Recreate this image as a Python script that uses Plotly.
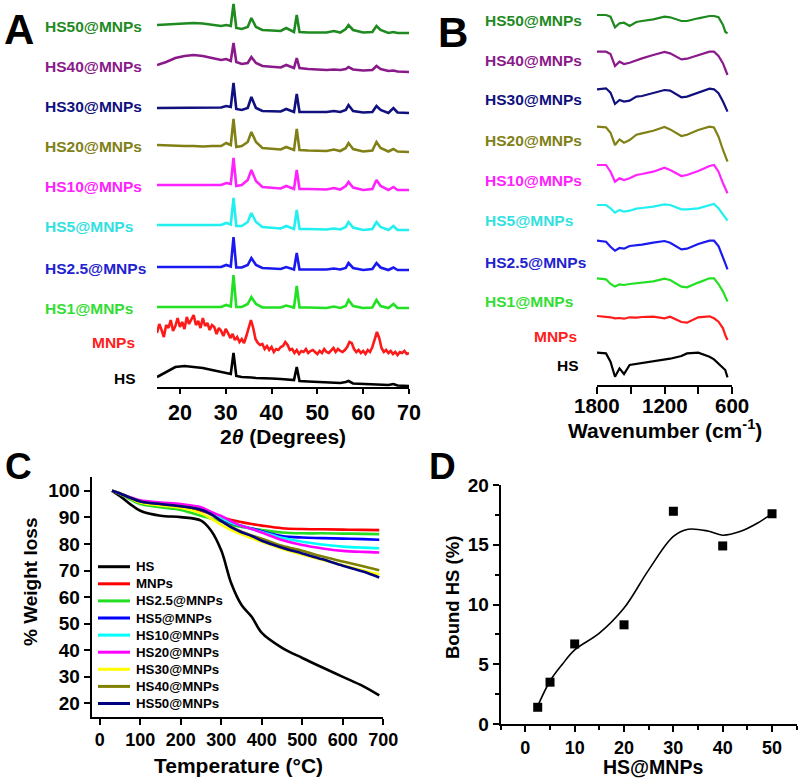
import plotly.graph_objects as go

W, H = 800, 782
FONT = "Arial, 'Liberation Sans', Helvetica, sans-serif"

# ---------------- Panel A : XRD ----------------
TWO_THETA = [15, 17, 19, 21, 23, 25, 27, 29, 30.1, 31.1, 31.7, 32.3, 33.5, 34.8, 35.6, 36.6,
             38, 40, 42, 43.2, 44.9, 45.5, 46.1, 48, 50, 52, 53.6, 55, 56.2, 56.8, 57.8, 60,
             62, 62.9, 63.8, 65.5, 66.6, 67.5, 70]
XRD_HS = [9, 14, 19, 20, 19, 18, 16, 14, 13, 12, 33, 10, 9, 9, 8.5, 8, 8, 7.5, 7, 6.5, 6, 19, 5, 4.5,
          4, 3.5, 3, 3, 4, 5, 2.5, 2, 1.5, 1.5, 1, 1, 2, 0.5, 0]
XRD_HS1 = [1, 1, 1, 1, 1, 1, 1.5, 1, 3, 1.5, 33, 1, 1, 4, 11, 4, 0.5, 0.5, 0.5, 2.5, 0.5, 22, 0.5, 0.5,
           0, 0, 1.5, 0, 2, 8, 2, 0, 0.5, 8, 2, 0, 4, 0, 0]
XRD_HS2_5 = [3, 3, 3, 3, 3, 3, 3.5, 3, 5, 3.5, 33, 2.5, 2.5, 5, 12, 5, 2, 1.5, 1, 3, 0.5, 17, 0.5, 0.5,
             0.5, 0.5, 1.5, 0.5, 2, 7, 2, 0, 1, 7, 2.5, 0, 2.5, 0, 0]
XRD_HS5 = [5, 5, 5, 5, 5, 5, 5, 5, 7, 5.5, 32, 4, 4, 8, 17, 8, 3, 2, 1.5, 4, 1, 20, 1, 1,
           0.5, 0.5, 1.5, 0.5, 3, 8, 2.5, 0, 1, 8, 3, 0, 4, 0, 0]
XRD_HS10 = [5, 5, 5, 5, 5, 5, 5, 5, 7, 6, 32, 4, 5, 10, 20, 9, 3, 2, 1.5, 4, 1, 20, 1, 1,
            0.5, 0.5, 2, 0.5, 4, 8, 2.5, 0, 1, 10, 4, 0, 3, 0, 0]
XRD_HS20 = [7, 6.5, 6, 6, 6, 5.5, 6, 6, 9, 7, 33, 5, 6, 10, 20, 10, 4, 3, 2.5, 5, 2, 23, 2, 1.5,
            1, 1, 2.5, 1, 4, 9, 3, 0.5, 1.5, 10, 4, 0.5, 3, 0.5, 0]
XRD_HS30 = [5, 5, 5, 5, 5, 5, 5, 5.5, 7, 6, 30, 4, 3, 5, 16, 5, 2, 1.5, 1.5, 4, 1, 19, 1, 1,
            1, 1, 2, 1, 3, 8, 2, 0.5, 1, 7, 3, 0, 5, 0.5, 0]
XRD_HS40 = [7, 10, 14, 16, 17, 16, 14, 12, 13, 11, 29, 10, 8, 9, 15, 9, 6, 5, 4.5, 7, 4, 14, 4, 3,
            2.5, 2, 2.5, 2, 3, 5, 2.5, 1.5, 2, 6, 3, 1, 1.5, 0.5, 0]
XRD_HS50 = [8, 8.5, 9, 9.5, 10, 9.5, 8.5, 7, 8, 7, 29, 5, 4, 6, 15, 6, 3, 2.5, 2, 5, 1, 18, 1, 0.5,
            0.5, 0.5, 2, 0.5, 4, 8, 3, 0.5, 1, 7, 3, 0, 1, 0, 0]
TWO_THETA_MNP = [15 + 0.5 * i for i in range(111)]
XRD_MNP = [22, 31, 25, 18, 30, 27, 35, 24, 29, 37, 28, 33, 26, 38, 31, 36, 40, 30, 34, 27,
           37, 29, 32, 25, 30, 28, 21, 27, 24, 19, 26, 22, 17, 21, 15, 18, 13, 16, 12, 19,
           28, 35, 27, 16, 12, 10, 11, 6, 9, 5, 8, 3, 6, 5, 8, 9, 13, 10, 5, 6,
           2, 5, 1, 4, 3, 6, 2, 4, 5, 3, 1, 4, 2, 6, 3, 2, 5, 7, 3, 6,
           4, 3, 5, 8, 13, 12, 6, 3, 5, 2, 4, 1, 5, 3, 8, 16, 23, 17, 7, 3,
           5, 2, 4, 1, 3, 0, 3, 2, 4, 1, 2]

SAMPLES = ["HS50@MNPs", "HS40@MNPs", "HS30@MNPs", "HS20@MNPs", "HS10@MNPs",
           "HS5@MNPs", "HS2.5@MNPs", "HS1@MNPs", "MNPs", "HS"]
LINE_COLORS = ["#1f8a1f", "#8a1a8a", "#10107e", "#808016", "#ff22ff",
               "#22f0f0", "#1a1af0", "#22e022", "#ff1a1a", "#000000"]
LABEL_COLORS = ["#1f8a1f", "#8a1a8a", "#10107e", "#808016", "#ff22ff",
                "#33e0e0", "#2222d0", "#33dd33", "#ff2020", "#000000"]

# ---------------- Panel B : FTIR ----------------
WAVENUMBER = [1800, 1720, 1680, 1640, 1600, 1560, 1510, 1450, 1400, 1300, 1200, 1150,
              1050, 1000, 900, 800, 760, 720, 680, 660, 640]
IR_HS50 = [0, 0, -1.7, -12.3, -8.3, -7.7, -11, -7, -6, -4.3, -1.7, -2.3, -6, -6, -3.3, -1, -1, -2.3, -10, -16.7, -18.3]
IR_HS40 = [0, 0, -2.3, -14.3, -10, -12.3, -11, -8.3, -6.7, -3.3, -0.3, -1.7, -7.7, -7, -3.3, 0, 0, -4.3, -11.7, -18.3, -23.3]
IR_HS30 = [0, 1, -3.3, -14.7, -10.7, -12.3, -11.3, -7.3, -6.7, -4, -0.7, -1.3, -8, -7.3, -3.3, 0.7, 0, -4, -12.3, -18, -22.3]
IR_HS20 = [0, -0.7, -6, -18.3, -12.7, -16, -13.3, -8, -6.7, -4, -0.3, -2.7, -9.3, -8, -3.3, 0, -0.7, -10, -23.3, -30, -35]
IR_HS10 = [0, 0, -6.7, -16.7, -13.3, -15, -13.3, -10, -9, -6.7, -2.7, -5, -11, -10, -6, -1, 0, -6.7, -18.3, -24.3, -28.3]
IR_HS5 = [0, 0, -3.3, -7.7, -5, -6.7, -5.7, -3.7, -3, -1.7, 0.7, 0, -4.3, -4.3, -3.3, 0.3, 1, -3.3, -10, -13.3, -15.7]
IR_HS2_5 = [0, -1, -6, -10, -7.3, -8, -5.3, -4.7, -4, -2, -0.3, -2, -8.7, -8, -3.3, 0, 0, -5.3, -16, -22.7, -28.7]
IR_HS1 = [0, -1, -5.7, -8.3, -6, -6.7, -5.7, -5, -4.3, -3, -0.3, -1.7, -8.3, -9, -4.3, 0, 0, -5.7, -13.3, -19, -23.3]
IR_MNP = [0, -0.7, -1.3, -2.3, -2, -2.7, -1.3, -1.7, -1, -0.7, -2.3, -0.7, -6, -6.7, -1.3, -0.3, -2.3, -5.7, -12.3, -19, -24]
IR_HS = [0, -0.7, -9, -24, -15.7, -21.3, -12.3, -11.3, -10.7, -9, -6.7, -6, -3.3, -0.7, 0, -4, -6.7, -11.3, -15.7, -17.3, -24.7]
IR_TICKS = [1800, 1500, 1200, 900, 600]
IR_TICK_LABELS = ["1800", "", "1200", "", "600"]

# ---------------- Panel C : TGA ----------------
TEMP = [30, 50, 75, 100, 150, 200, 250, 275, 300, 325, 350, 375, 400, 450, 500, 550, 600, 650, 690]
TGA_NAMES = ["HS", "MNPs", "HS2.5@MNPs", "HS5@MNPs", "HS10@MNPs", "HS20@MNPs",
             "HS30@MNPs", "HS40@MNPs", "HS50@MNPs"]
TGA_COLORS = ["#000000", "#ff0000", "#22dd22", "#0000ff", "#00ffff", "#ff00ff",
              "#ffff00", "#808000", "#000080"]
TGA_HS = [100, 98, 95, 92.5, 90.6, 90.1, 88.8, 85, 77.5, 65, 57, 52.6, 46.5, 40.9, 37.1, 33.5, 30, 26.5, 23]
TGA_MNP = [100, 98.8, 97, 95.8, 94.8, 94.0, 92.5, 91.3, 90, 89, 88.2, 87.5, 86.9, 85.9, 85.6, 85.5, 85.4, 85.3, 85.2]
TGA_HS2_5 = [100, 98.8, 96.8, 95, 93.8, 92.8, 90.6, 89.6, 88.5, 87.2, 86.4, 85.8, 85.2, 84.3, 84, 84, 83.9, 83.8, 83.7]
TGA_HS5 = [100, 99, 97.3, 96, 95, 94.3, 93.2, 91.5, 89.5, 87.8, 86.8, 85.8, 84.8, 83, 82.4, 82.2, 82, 81.8, 81.6]
TGA_HS10 = [100, 99, 97.5, 96.2, 95.3, 94.6, 93.3, 91.7, 89.8, 88, 86.8, 85.6, 84.5, 82.3, 80.8, 79.8, 79, 78.6, 78.4]
TGA_HS20 = [100, 99, 97.6, 96.4, 95.6, 95, 93.8, 92, 90.5, 88.5, 86.8, 85.6, 84.3, 81.5, 79.6, 78.3, 77.4, 77, 76.8]
TGA_HS30 = [100, 99, 97.2, 95.6, 94.5, 93.6, 91.5, 89.5, 87.2, 85.2, 83.6, 82.2, 80.8, 78.2, 76, 74, 72, 70, 68.5]
TGA_HS40 = [100, 99, 97.4, 96, 95, 94.2, 92.8, 91, 88.6, 86.4, 84.6, 83.2, 82, 79.3, 77.4, 75.3, 73.4, 71.6, 70.1]
TGA_HS50 = [100, 99, 97.4, 96, 95, 94.2, 92.9, 91.2, 88.6, 86.2, 84.4, 83, 81.2, 78.6, 76.4, 74.2, 71.8, 69.6, 67.4]

# ---------------- Panel D : bound HS ----------------
HS_RATIO = [2.5, 5, 10, 20, 30, 40, 50]
BOUND_HS = [1.4, 3.5, 6.7, 8.3, 17.8, 14.9, 17.6]
FIT_X = [2.5, 5, 7.5, 10, 15, 20, 25, 30, 33, 37, 40, 43.5, 47, 50]
FIT_Y = [1.5, 3.6, 5.0, 6.2, 7.6, 9.7, 12.9, 15.7, 16.3, 16.15, 15.8, 16.1, 16.8, 17.6]

# ---------------- layout helpers (pixel positions) ----------------
def px(x):
    return x / W

def py(y):
    return 1 - y / H

XRD_SERIES = [XRD_HS50, XRD_HS40, XRD_HS30, XRD_HS20, XRD_HS10, XRD_HS5, XRD_HS2_5, XRD_HS1, XRD_MNP, XRD_HS]
XRD_OFFSETS = [354, 315, 274, 235, 197, 157, 117, 79, 32, 1]
IR_SERIES = [IR_HS50, IR_HS40, IR_HS30, IR_HS20, IR_HS10, IR_HS5, IR_HS2_5, IR_HS1, IR_MNP, IR_HS]
IR_OFFSETS = [370, 333.3, 295.7, 258.3, 220, 180, 144.3, 106.7, 69, 32.3]
TGA_SERIES = [TGA_HS, TGA_MNP, TGA_HS2_5, TGA_HS5, TGA_HS10, TGA_HS20, TGA_HS30, TGA_HS40, TGA_HS50]

A_LABEL_POS = [(43, 26), (43, 67), (43, 107), (43, 147), (43, 187), (43, 227), (43, 268), (43, 308), (90, 342), (112, 379)]
B_LABEL_POS = [(483, 21), (483, 61), (483, 100), (483, 141), (483, 181), (483, 221), (483, 262), (483, 301), (532, 336), (555, 366)]
LEG_X0, LEG_X1, LEG_TEXT_X, LEG_Y0, LEG_DY = 98, 130, 134, 566.7, 17.1

fig = go.Figure()

for i, (vals, off) in enumerate(zip(XRD_SERIES, XRD_OFFSETS)):
    xs = TWO_THETA_MNP if SAMPLES[i] == "MNPs" else TWO_THETA
    fig.add_trace(go.Scatter(x=xs, y=[v + off for v in vals], mode="lines",
                             line=dict(color=LINE_COLORS[i], width=2.6),
                             xaxis="x", yaxis="y", showlegend=False, hoverinfo="skip"))

for i, (vals, off) in enumerate(zip(IR_SERIES, IR_OFFSETS)):
    fig.add_trace(go.Scatter(x=WAVENUMBER, y=[v + off for v in vals], mode="lines",
                             line=dict(color=LINE_COLORS[i], width=2.2),
                             xaxis="x2", yaxis="y2", showlegend=False, hoverinfo="skip"))

for name, vals, col in zip(TGA_NAMES, TGA_SERIES, TGA_COLORS):
    fig.add_trace(go.Scatter(x=TEMP, y=vals, mode="lines", name=name, line_shape="spline",
                             line=dict(color=col, width=2.6), xaxis="x3", yaxis="y3",
                             showlegend=False))

fig.add_trace(go.Scatter(x=FIT_X, y=FIT_Y, mode="lines", line_shape="spline",
                         line=dict(color="black", width=1.6), xaxis="x4", yaxis="y4",
                         showlegend=False))
fig.add_trace(go.Scatter(x=HS_RATIO, y=BOUND_HS, mode="markers",
                         marker=dict(symbol="square", size=9, color="black"),
                         xaxis="x4", yaxis="y4", showlegend=False))

ax_common = dict(showline=True, linecolor="black", linewidth=2, ticks="outside",
                 tickwidth=2, tickcolor="black", showgrid=False, zeroline=False,
                 mirror=False, automargin=False)

def tf(size):
    return dict(family=FONT, size=size, color="black", weight="bold")

fig.update_layout(
    template="none",
    width=W, height=H,
    margin=dict(l=0, r=0, t=0, b=0, pad=0, autoexpand=False),
    paper_bgcolor="white", plot_bgcolor="white",
    font=dict(family=FONT, color="black"),
    showlegend=False,
    xaxis=dict(domain=[px(157), px(409)], range=[15, 70], anchor="y", ticklen=5,
               tickvals=[20, 30, 40, 50, 60, 70], tickfont=tf(21.5), **ax_common),
    yaxis=dict(domain=[py(387), 1], range=[0, 387], visible=False, anchor="x"),
    xaxis2=dict(domain=[px(597), px(732)], range=[1800, 600], anchor="y2", ticklen=7,
                tickvals=IR_TICKS, showticklabels=False, **ax_common),
    yaxis2=dict(domain=[py(385), 1], range=[0, 385], visible=False, anchor="x2"),
    xaxis3=dict(domain=[px(91.7), px(383.3)], range=[-20, 700], anchor="y3", ticklen=6,
                tickvals=[0, 100, 200, 300, 400, 500, 600, 700], tickfont=tf(18), **ax_common),
    yaxis3=dict(domain=[py(716.7), py(476.7)], range=[15, 105.3], anchor="x3", ticklen=6,
                tickvals=[20, 30, 40, 50, 60, 70, 80, 90, 100], tickfont=tf(19), **ax_common),
    xaxis4=dict(domain=[px(500.7), px(796.7)], range=[-5, 55], anchor="y4", ticklen=6,
                tickvals=[0, 10, 20, 30, 40, 50], tickfont=tf(18),
                minor=dict(ticks="outside", ticklen=4, tickwidth=2, tickcolor="black",
                           tickvals=[-5, 5, 15, 25, 35, 45, 55]), **ax_common),
    yaxis4=dict(domain=[py(724), py(485)], range=[0, 20], anchor="x4", ticklen=6,
                tickvals=[0, 5, 10, 15, 20], tickfont=tf(19),
                minor=dict(ticks="outside", ticklen=4, tickwidth=2, tickcolor="black",
                           tickvals=[2.5, 7.5, 12.5, 17.5]), **ax_common),
)

ann = []
shapes = []
for name, (x, y), col in zip(SAMPLES, A_LABEL_POS, LABEL_COLORS):
    ann.append(dict(text=name, x=px(x), y=py(y), xref="paper", yref="paper",
                    xanchor="left", yanchor="middle", showarrow=False,
                    font=dict(family=FONT, size=15.5, color=col, weight="bold")))
for name, (x, y), col in zip(SAMPLES, B_LABEL_POS, LABEL_COLORS):
    ann.append(dict(text=name, x=px(x), y=py(y), xref="paper", yref="paper",
                    xanchor="left", yanchor="middle", showarrow=False,
                    font=dict(family=FONT, size=15.5, color=col, weight="bold")))

# tick labels of panel B (placed on the x2 scale)
for val, lab in zip(IR_TICKS, IR_TICK_LABELS):
    if lab:
        ann.append(dict(text=lab, x=val, y=py(405), xref="x2", yref="paper",
                        xanchor="center", yanchor="middle", showarrow=False, font=tf(20.5)))

# legend of panel C
for i, (name, col) in enumerate(zip(TGA_NAMES, TGA_COLORS)):
    yy = LEG_Y0 + i * LEG_DY
    shapes.append(dict(type="line", xref="paper", yref="paper",
                       x0=px(LEG_X0), x1=px(LEG_X1), y0=py(yy), y1=py(yy),
                       line=dict(color=col, width=3)))
    ann.append(dict(text=name, x=px(LEG_TEXT_X), y=py(yy), xref="paper", yref="paper",
                    xanchor="left", yanchor="middle", showarrow=False, font=tf(13.3)))

for letter, (x, y), size in [("A", (19, 30), 42), ("B", (453, 32), 42),
                              ("C", (18, 466), 37), ("D", (442, 466), 37)]:
    ann.append(dict(text=letter, x=px(x), y=py(y), xref="paper", yref="paper",
                    xanchor="center", yanchor="middle", showarrow=False, font=tf(size)))

titles = [
    ("2<i>θ</i> (Degrees)", 283, 436, 21, 0),
    ("Wavenumber (cm<sup>-1</sup>)", 665, 429, 21, 0),
    ("Temperature (°C)", 238, 765, 21, 0),
    ("% Weight loss", 30, 582, 19, -90),
    ("HS@MNPs", 653, 767, 19.5, 0),
    ("Bound HS (%)", 452, 597, 18.5, -90),
]
for text, x, y, size, ang in titles:
    ann.append(dict(text=text, x=px(x), y=py(y), xref="paper", yref="paper",
                    xanchor="center", yanchor="middle", showarrow=False,
                    textangle=ang, font=tf(size)))

fig.update_layout(annotations=ann, shapes=shapes)
fig.write_html("out.html", config={"displayModeBar": False, "staticPlot": True},
               post_script="document.body.style.margin='0px';document.body.style.padding='0px';")
